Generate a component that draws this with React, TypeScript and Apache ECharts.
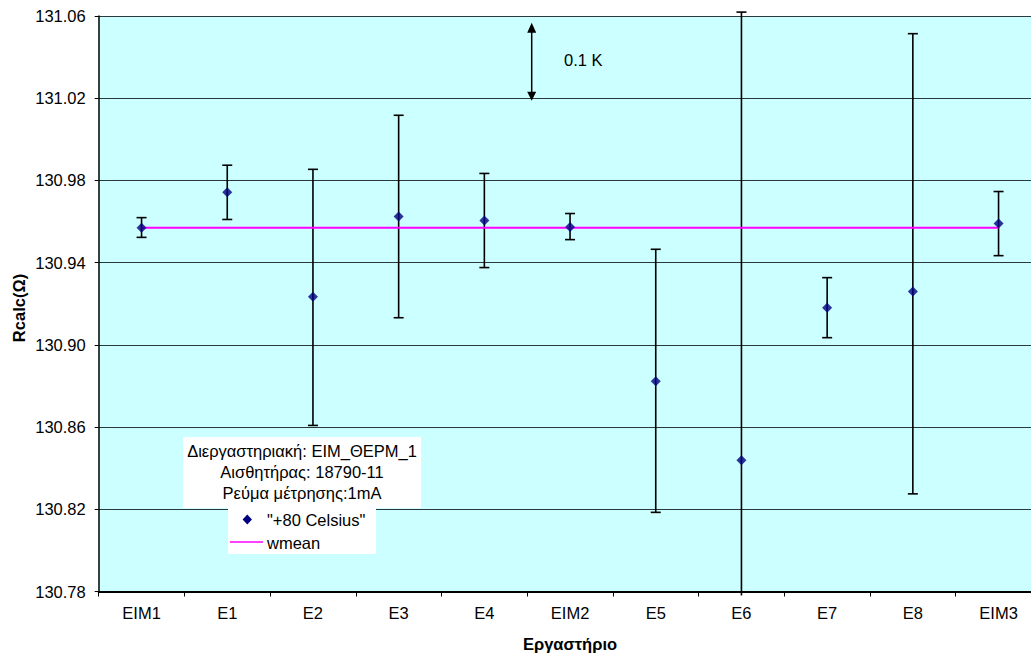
import React, { useEffect, useRef } from "react";
import * as echarts from "echarts";

const categories = ["ΕΙΜ1", "Ε1", "Ε2", "Ε3", "Ε4", "ΕΙΜ2", "Ε5", "Ε6", "Ε7", "Ε8", "ΕΙΜ3"];
const values = [130.957, 130.9743, 130.9234, 130.9625, 130.9605, 130.9574, 130.8823, 130.8439, 130.9181, 130.9259, 130.9591];
const errPlus = [0.0049, 0.0131, 0.062, 0.0492, 0.0229, 0.0065, 0.0642, 0.218, 0.0146, 0.1255, 0.0155];
const errMinus = [0.0047, 0.0133, 0.0626, 0.0493, 0.0229, 0.0062, 0.0638, 0.218, 0.0146, 0.0984, 0.0157];
const wmean = 130.957;
const yMin = 130.78;
const yMax = 131.06;
const yStep = 0.04;
const seriesName = '"+80 Celsius"';
const lineName = "wmean";
const infoLines = ["Διεργαστηριακή: ΕΙΜ_ΘΕΡΜ_1", "Αισθητήρας: 18790-11", "Ρεύμα μέτρησης:1mA"];
const arrowLabel = "0.1 K";

const FONT = "'Liberation Sans', Arial, sans-serif";
const FS = 16.5;

export default function App() {
  const ref = useRef<HTMLDivElement>(null);
  useEffect(() => {
    if (!ref.current) return;
    const chart = echarts.init(ref.current, undefined, { renderer: "svg" });
    const base = yMin;
    const option: any = {
      animation: false,
      backgroundColor: "#ffffff",
      textStyle: { fontFamily: FONT },
      grid: {
        left: 98.7,
        top: 16,
        right: 1050 - 1041.4,
        bottom: 657 - 591.5,
        containLabel: false,
        show: true,
        backgroundColor: "#CCFFFF",
        borderWidth: 0,
      },
      xAxis: {
        type: "category",
        data: categories,
        boundaryGap: true,
        axisLine: { show: true, lineStyle: { color: "#000", width: 2 } },
        axisTick: { show: true, length: 5, lineStyle: { color: "#000", width: 1 } },
        axisLabel: { color: "#000", fontSize: FS, fontFamily: FONT, margin: 13 },
        splitLine: { show: false },
      },
      yAxis: {
        type: "value",
        min: 0,
        max: yMax - yMin,
        interval: yStep,
        axisLine: { show: true, lineStyle: { color: "#000", width: 1.5 } },
        axisTick: { show: true, length: 4, lineStyle: { color: "#000" } },
        axisLabel: {
          color: "#000",
          fontSize: FS,
          fontFamily: FONT,
          margin: 13,
          formatter: (v: number) => (base + v).toFixed(2),
        },
        splitLine: { show: true, lineStyle: { color: "#2a3a3a", width: 1 } },
      },
      series: [
        {
          type: "custom",
          name: "err",
          z: 2,
          clip: false,
          data: categories.map((c, i) => [i, values[i] - errMinus[i] - base, values[i] + errPlus[i] - base]),
          renderItem: (params: any, api: any) => {
            const i = api.value(0);
            const pLo = api.coord([i, api.value(1)]);
            const pHi = api.coord([i, api.value(2)]);
            const cs = params.coordSys;
            const top = cs.y - 4;
            const bottom = cs.y + cs.height + 4;
            const y1 = Math.max(pHi[1], top);
            const y2 = Math.min(pLo[1], bottom);
            const x = pLo[0];
            const style = { stroke: "#000", lineWidth: 1.6 };
            const children: any[] = [
              { type: "line", shape: { x1: x, y1, x2: x, y2 }, style },
            ];
            if (pHi[1] >= top) children.push({ type: "line", shape: { x1: x - 5, y1: pHi[1], x2: x + 5, y2: pHi[1] }, style });
            if (pLo[1] <= bottom) children.push({ type: "line", shape: { x1: x - 5, y1: pLo[1], x2: x + 5, y2: pLo[1] }, style });
            return { type: "group", children };
          },
        },
        {
          type: "line",
          name: lineName,
          z: 3,
          data: categories.map(() => wmean - base),
          showSymbol: false,
          symbol: "none",
          lineStyle: { color: "#FF00FF", width: 2 },
          itemStyle: { color: "#FF00FF" },
        },
        {
          type: "scatter",
          name: seriesName,
          z: 4,
          data: values.map((v) => v - base),
          symbol: "diamond",
          symbolSize: [10, 10],
          itemStyle: { color: "#000080" },
        },
      ],
      graphic: [
        // info box
        { type: "rect", z: 100, shape: { x: 183, y: 437, width: 238, height: 71 }, style: { fill: "#fff" } },
        ...infoLines.map((t, k) => ({
          type: "text",
          z: 101,
          x: 302,
          y: 450.5 + k * 21,
          style: { text: t, fill: "#000", font: `${FS}px ${FONT}`, textAlign: "center", textVerticalAlign: "middle" },
        })),
        // legend box
        { type: "rect", z: 100, shape: { x: 228, y: 508, width: 148, height: 46 }, style: { fill: "#fff" } },
        { type: "polygon", z: 101, shape: { points: [[247.3, 514.5], [252, 519.5], [247.3, 524.5], [242.6, 519.5]] }, style: { fill: "#000080" } },
        { type: "text", z: 101, x: 267, y: 520, style: { text: seriesName, fill: "#000", font: `${FS}px ${FONT}`, textVerticalAlign: "middle" } },
        { type: "line", z: 101, shape: { x1: 230, y1: 542, x2: 263, y2: 542 }, style: { stroke: "#FF00FF", lineWidth: 1.5 } },
        { type: "text", z: 101, x: 267, y: 543, style: { text: lineName, fill: "#000", font: `${FS}px ${FONT}`, textVerticalAlign: "middle" } },
        // arrow annotation
        { type: "line", z: 101, shape: { x1: 531.7, y1: 30, x2: 531.7, y2: 94 }, style: { stroke: "#000", lineWidth: 1.5 } },
        { type: "polygon", z: 101, shape: { points: [[531.7, 22.7], [527.2, 32.7], [536.2, 32.7]] }, style: { fill: "#000" } },
        { type: "polygon", z: 101, shape: { points: [[531.7, 100.7], [527.2, 91.7], [536.2, 91.7]] }, style: { fill: "#000" } },
        { type: "text", z: 101, x: 564, y: 60, style: { text: arrowLabel, fill: "#000", font: `${FS}px ${FONT}`, textVerticalAlign: "middle" } },
        // axis titles
        {
          type: "text",
          z: 101,
          x: 19,
          y: 308,
          rotation: Math.PI / 2,
          style: { text: "Rcalc(Ω)", fill: "#000", font: `bold ${FS}px ${FONT}`, textAlign: "center", textVerticalAlign: "middle" },
        },
        {
          type: "text",
          z: 101,
          x: 570,
          y: 644,
          style: { text: "Εργαστήριο", fill: "#000", font: `bold ${FS}px ${FONT}`, textAlign: "center", textVerticalAlign: "middle" },
        },
      ],
    };
    chart.setOption(option);
    return () => chart.dispose();
  }, []);
  return (
    <div style={{ position: "fixed", left: 0, top: 0, width: 1031, height: 657, overflow: "hidden", background: "#fff" }}>
      <div ref={ref} style={{ width: 1050, height: 657 }} />
    </div>
  );
}
